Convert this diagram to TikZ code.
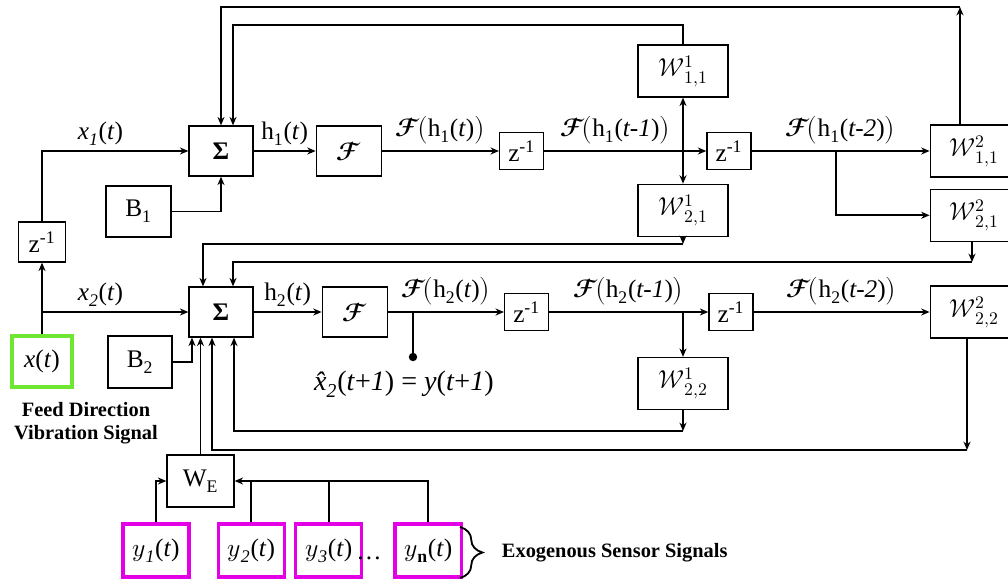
\documentclass[tikz,border=0pt]{standalone}
\usepackage{amsmath}
\usepackage{unicode-math}
\setmainfont{Liberation Serif}
\setmathfont{Latin Modern Math}
\usetikzlibrary{arrows.meta,positioning,decorations.pathreplacing}
\definecolor{sensmag}{RGB}{228,0,228}
\definecolor{feedgrn}{RGB}{110,230,50}

\begin{document}
\begin{tikzpicture}[
  x=0.025cm, y=-0.025cm,
  font=\fontsize{18}{21}\selectfont,
  blk/.style={rectangle, draw=black, line width=0.9pt, inner sep=0pt, align=center, fill=white},
  sig/.style={blk, line width=2.4pt, minimum width=1.65cm, minimum height=1.325cm},
  arr/.style={-{Stealth[length=6pt,width=5pt]}, line width=1.3pt},
  lnk/.style={line width=1.3pt},
  note/.style={font=\fontsize{14.5}{16.5}\selectfont\bfseries, align=center}
]
\useasboundingbox (0,0) rectangle (1008,579);

% first layer
\node[blk, minimum width=1.6cm, minimum height=1.25cm] (s1) at (221,151) {{\bfseries Σ}};
\node[blk, minimum width=1.625cm, minimum height=1.25cm, right=1.55cm of s1] (f1) {$\symbfcal{F}$};
\node[blk, minimum width=1.1cm, minimum height=0.925cm, right=2.925cm of f1] (z1a) {z\textsuperscript{-1}};
\node[blk, minimum width=1.1cm, minimum height=0.925cm, right=4.05cm of z1a] (z1b) {z\textsuperscript{-1}};
\node[blk, minimum width=2.2cm, minimum height=1.3cm, right=4.45cm of z1b] (w211) {$\symcal{W}^{2}_{1,1}$};
\node[blk, minimum width=2.2cm, minimum height=1.3cm, below=0.275cm of w211] (w221) {$\symcal{W}^{2}_{2,1}$};
\node[blk, minimum width=2.25cm, minimum height=1.3cm] (w111) at (683,71) {$\symcal{W}^{1}_{1,1}$};
\node[blk, minimum width=2.25cm, minimum height=1.3cm, below=2.15cm of w111] (w121) {$\symcal{W}^{1}_{2,1}$};
\node[blk, minimum width=1.625cm, minimum height=1.275cm] (b1) at (138.5,211.5) {B\textsubscript{1}};
\node[blk, minimum width=1.175cm, minimum height=1cm] (zl) at (42,242) {z\textsuperscript{-1}};

% second layer
\node[blk, minimum width=1.6cm, minimum height=1.25cm] (s2) at (221,312) {{\bfseries Σ}};
\node[blk, minimum width=1.625cm, minimum height=1.25cm, right=1.7cm of s2] (f2) {$\symbfcal{F}$};
\node[blk, minimum width=1.1cm, minimum height=0.925cm, right=2.9cm of f2] (z2a) {z\textsuperscript{-1}};
\node[blk, minimum width=1.1cm, minimum height=0.925cm, right=3.975cm of z2a] (z2b) {z\textsuperscript{-1}};
\node[blk, minimum width=2.2cm, minimum height=1.3cm, right=4.4cm of z2b] (w222) {$\symcal{W}^{2}_{2,2}$};
\node[blk, minimum width=2.25cm, minimum height=1.3cm] (w122) at (683,383.5) {$\symcal{W}^{1}_{2,2}$};
\node[blk, minimum width=1.6cm, minimum height=1.3cm] (b2) at (140,362) {B\textsubscript{2}};

% inputs
\node[sig, draw=feedgrn, minimum width=1.5cm, minimum height=1.275cm] (xt) at (42,361.5) {\textit{x}(\textit{t})};
\node[note] (xtcap) at (86,423) {Feed Direction\\Vibration Signal};
\node[blk, minimum width=1.675cm, minimum height=1.3cm] (we) at (200.5,481) {W\textsubscript{E}};
\node[sig, draw=sensmag] (y1) at (156,550.5) {$\symcal{y}$\textsubscript{\textit{1}}(\textit{t})};
\node[sig, draw=sensmag, right=0.65cm of y1] (y2) {$\symcal{y}$\textsubscript{\textit{2}}(\textit{t})};
\node[sig, draw=sensmag, right=0.2cm of y2] (y3) {$\symcal{y}$\textsubscript{\textit{3}}(\textit{t})};
\node[sig, draw=sensmag, right=0.75cm of y3] (yn) {$\symcal{y}$\textsubscript{\textbf{n}}(\textit{t})};
\node (dots) at (369,558) {\dots};
\coordinate (brtop) at (460,527);
\coordinate (brbot) at (460,578);
\draw[line width=1.3pt, decorate, decoration={brace, amplitude=16pt}] (brtop) -- (brbot);
\node[note, anchor=west] (exo) at (497,553) {Exogenous Sensor Signals};

% feed signal
\draw[arr] (xt.north) -- (zl.south);
\draw[arr] (xt.north |- s2) -- node[pos=0.4, above] {\textit{x\textsubscript{2}}(\textit{t})} (s2.west);
\draw[arr] (zl.north) |- node[pos=0.7, above] {\textit{x\textsubscript{1}}(\textit{t})} (s1.west);
\draw[arr] (b1.east) -| (s1.south);
\draw[arr] (b2.east) -| ([xshift=-0.725cm]s2.south);

% forward path, layer 1
\draw[arr] (s1) -- node[above] {h\textsubscript{1}(\textit{t})} (f1);
\draw[arr] (f1) -- node[above] {$\symbfcal{F}\!\bigl($h\textsubscript{1}(\textit{t})$\bigr)$} (z1a);
\draw[arr] (z1a) -- node[above, xshift=-0.25cm] {$\symbfcal{F}\!\bigl($h\textsubscript{1}(\textit{t-1})$\bigr)$} (z1b);
\draw[{Stealth[length=6pt,width=5pt]}-{Stealth[length=6pt,width=5pt]}, line width=1.3pt] (w111) -- (w121);
\draw[arr] (z1b) -- node[above] {$\symbfcal{F}\!\bigl($h\textsubscript{1}(\textit{t-2})$\bigr)$} (w211);
\coordinate (br1) at (836,151);
\draw[arr] (br1) |- (w221.west);

% forward path, layer 2
\draw[arr] (s2) -- node[above] {h\textsubscript{2}(\textit{t})} (f2);
\draw[arr] (f2) -- node[above] {$\symbfcal{F}\!\bigl($h\textsubscript{2}(\textit{t})$\bigr)$} (z2a);
\node[circle, fill=black, inner sep=0pt, minimum size=6pt] (tap) at (413,357) {};
\draw[lnk] (tap.center) -- (tap |- f2);
\node[font=\fontsize{20}{24}\selectfont] (pred) at (404,384) {\textit{\^{x}\textsubscript{2}}(\textit{t}+\textit{1}) = \textit{y}(\textit{t}+\textit{1})};
\draw[arr] (z2a) -- node[above] {$\symbfcal{F}\!\bigl($h\textsubscript{2}(\textit{t-1})$\bigr)$} (z2b);
\draw[arr] (z2a -| w122.north) -- (w122.north);
\draw[arr] (z2b) -- node[above] {$\symbfcal{F}\!\bigl($h\textsubscript{2}(\textit{t-2})$\bigr)$} (w222);

% recurrent links
\coordinate (c1) at (960,7);
\draw[arr] (w211.north -| c1) -- (c1);
\draw[arr] (c1) -| (s1.north);
\coordinate (c2) at (233,25);
\draw[arr] (w111.north) |- (c2) -- ([xshift=0.3cm]s1.north);
\coordinate (c3) at (683,244);
\draw[arr] (w121.south) -- (c3);
\draw[arr] (c3) -| ([xshift=-0.45cm]s2.north);
\coordinate (c4) at (972,262);
\draw[arr] (w221.south -| c4) -- (c4);
\draw[arr] (c4) -| ([xshift=0.3cm]s2.north);
\coordinate (c5) at (683,431);
\draw[arr] (w122.south) -- (c5);
\draw[arr] (c5) -| ([xshift=0.325cm]s2.south);
\coordinate (c6) at (967,450);
\draw[arr] (w222.south -| c6) -- (c6);
\draw[arr] (c6) -| ([xshift=-0.225cm]s2.south);

% exogenous inputs
\draw[arr] (we.north) -- (we.north |- s2.south);
\draw[arr] (y1.north) |- (we.west);
\draw[arr] (yn.north) |- (we.east);
\draw[lnk] (y2.north) -- (y2.north |- we.east);
\draw[lnk] (y3.north) -- (y3.north |- we.east);
\end{tikzpicture}
\end{document}
